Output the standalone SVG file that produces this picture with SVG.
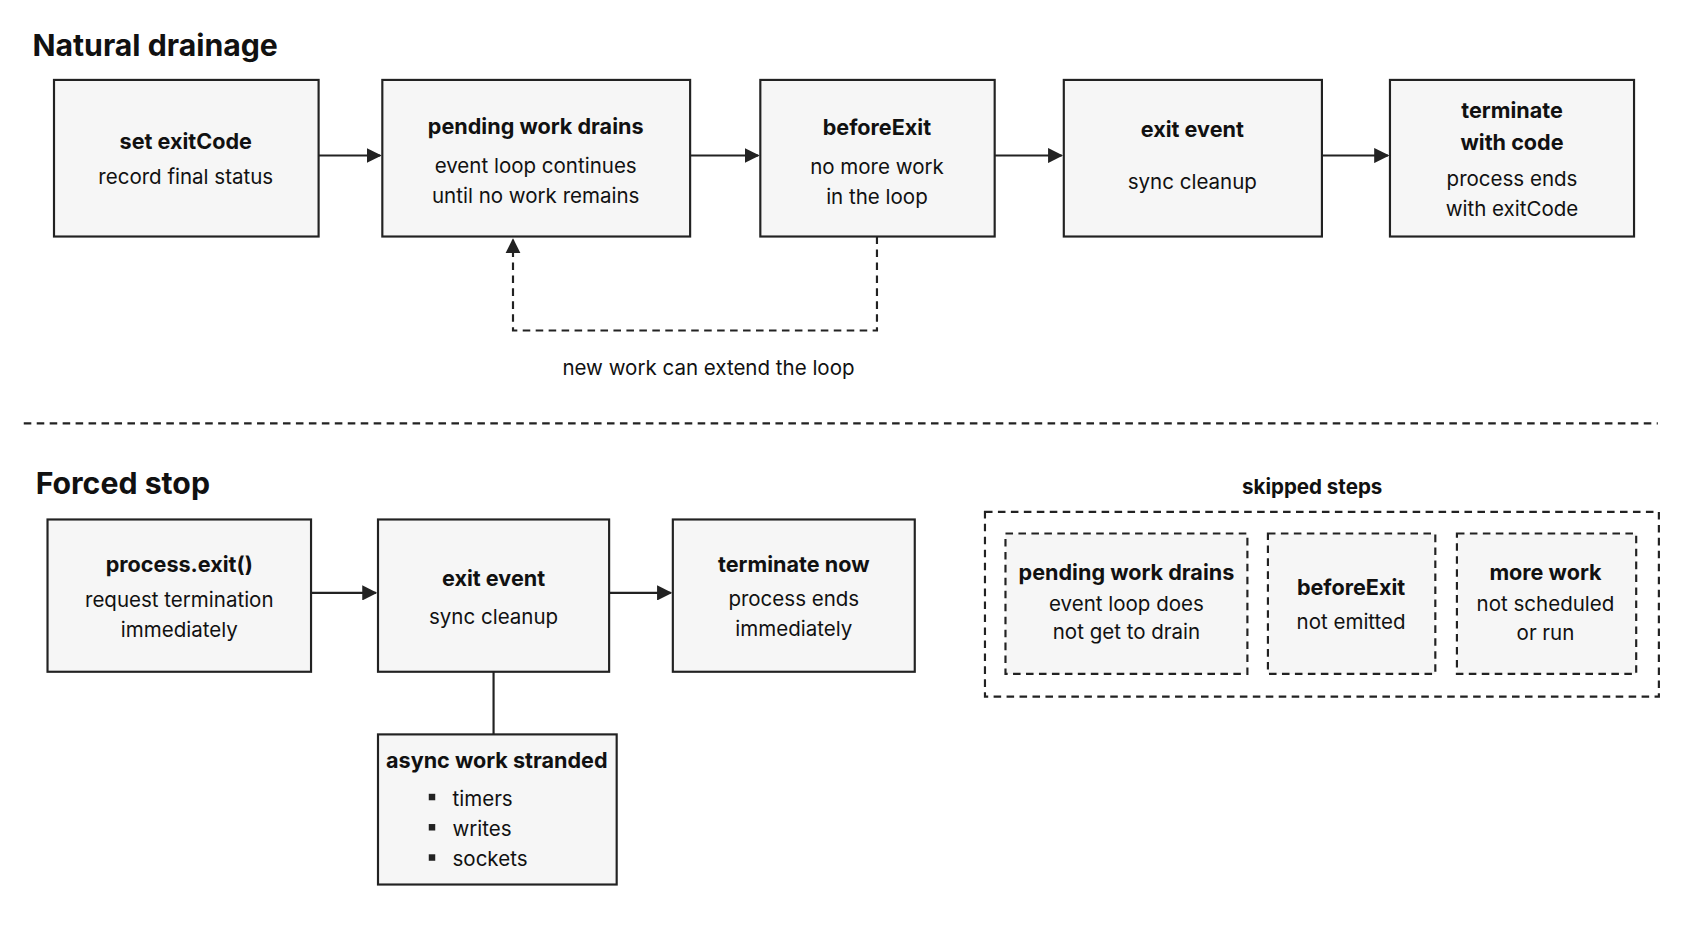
<svg xmlns="http://www.w3.org/2000/svg" width="1693" height="929" viewBox="0 0 1693 929">
<style>
text{font-family:"Inter","Noto Sans","Liberation Sans",sans-serif;fill:#111;text-anchor:middle}
.h{font-size:28px;font-weight:700;text-anchor:start}
.b{font-size:20px;font-weight:700}
.t{font-size:19px}
.box{fill:#f6f6f6;stroke:#222;stroke-width:2}
.dbox{fill:#f6f6f6;stroke:#222;stroke-width:2;stroke-dasharray:7 5}
.ln{fill:none;stroke:#222;stroke-width:2}
.dl{fill:none;stroke:#222;stroke-width:2;stroke-dasharray:7 5}
</style>
<defs><marker id="a" viewBox="0 0 10 10" refX="9" refY="5" markerWidth="8" markerHeight="8" orient="auto" markerUnits="userSpaceOnUse" ><path d="M0,0L10,5L0,10z" fill="#222"/></marker>
<marker id="ah" viewBox="0 0 10 10" refX="9" refY="5" markerWidth="14" markerHeight="14" orient="auto" markerUnits="userSpaceOnUse"><path d="M0,0L10,5L0,10z" fill="#222"/></marker></defs>
<rect width="1693" height="929" fill="#fff"/>
<g transform="scale(1.08)">
<text class="h" x="30" y="52">Natural drainage</text>
<text class="h" x="33" y="457">Forced stop</text>
<g id="n1"><rect class="box" x="50" y="74" width="245" height="145"/><text class="b" x="172" y="138">set exitCode</text><text class="t" x="172" y="170">record final status</text></g>
<g id="n2"><rect class="box" x="354" y="74" width="285" height="145"/><text class="b" x="496" y="124">pending work drains</text><text class="t" x="496" y="160">event loop continues</text><text class="t" x="496" y="188">until no work remains</text></g>
<g id="n3"><rect class="box" x="704" y="74" width="217" height="145"/><text class="b" x="812" y="125">beforeExit</text><text class="t" x="812" y="161">no more work</text><text class="t" x="812" y="189">in the loop</text></g>
<g id="n4"><rect class="box" x="985" y="74" width="239" height="145"/><text class="b" x="1104" y="127">exit event</text><text class="t" x="1104" y="175">sync cleanup</text></g>
<g id="n5"><rect class="box" x="1287" y="74" width="226" height="145"/><text class="b" x="1400" y="109">terminate</text><text class="b" x="1400" y="139">with code</text><text class="t" x="1400" y="172">process ends</text><text class="t" x="1400" y="200">with exitCode</text></g>
<g id="f1"><rect class="box" x="44" y="481" width="244" height="141"/><text class="b" x="166" y="530">process.exit()</text><text class="t" x="166" y="562">request termination</text><text class="t" x="166" y="590">immediately</text></g>
<g id="f2"><rect class="box" x="350" y="481" width="214" height="141"/><text class="b" x="457" y="543">exit event</text><text class="t" x="457" y="578">sync cleanup</text></g>
<g id="f3"><rect class="box" x="623" y="481" width="224" height="141"/><text class="b" x="735" y="530">terminate now</text><text class="t" x="735" y="561">process ends</text><text class="t" x="735" y="589">immediately</text></g>
<g id="f4"><rect class="box" x="350" y="680" width="221" height="139"/><text class="b" x="460" y="711">async work stranded</text>
<rect x="397" y="735" width="6" height="6" fill="#222"/><rect x="397" y="763" width="6" height="6" fill="#222"/><rect x="397" y="791" width="6" height="6" fill="#222"/>
<text class="t" x="419" y="746" style="text-anchor:start">timers</text><text class="t" x="419" y="774" style="text-anchor:start">writes</text><text class="t" x="419" y="802" style="text-anchor:start">sockets</text></g>
<g id="skipped"><text class="b" x="1215" y="457" style="font-size:19px">skipped steps</text><rect class="dl" x="912" y="474" width="624" height="171"/>
<g id="s1"><rect class="dbox" x="931" y="494" width="224" height="130"/><text class="b" x="1043" y="537">pending work drains</text><text class="t" x="1043" y="566">event loop does</text><text class="t" x="1043" y="592">not get to drain</text></g>
<g id="s2"><rect class="dbox" x="1174" y="494" width="155" height="130"/><text class="b" x="1251" y="551">beforeExit</text><text class="t" x="1251" y="582">not emitted</text></g>
<g id="s3"><rect class="dbox" x="1349" y="494" width="166" height="130"/><text class="b" x="1431" y="537">more work</text><text class="t" x="1431" y="566">not scheduled</text><text class="t" x="1431" y="593">or run</text></g></g>
<g id="connectors">
<path class="ln" d="M295,144H352" marker-end="url(#ah)"/>
<path class="ln" d="M639,144H702" marker-end="url(#ah)"/>
<path class="ln" d="M921,144H983" marker-end="url(#ah)"/>
<path class="ln" d="M1224,144H1285" marker-end="url(#ah)"/>
<path class="dl" d="M812,219V306H475V222" marker-end="url(#ah)"/>
<text class="t" x="656" y="347">new work can extend the loop</text>
<path class="dl" d="M22,392H1535"/>
<path class="ln" d="M288,549H348" marker-end="url(#ah)"/>
<path class="ln" d="M564,549H621" marker-end="url(#ah)"/>
<path class="ln" d="M457,622V680"/>
</g>
</g>
</svg>
